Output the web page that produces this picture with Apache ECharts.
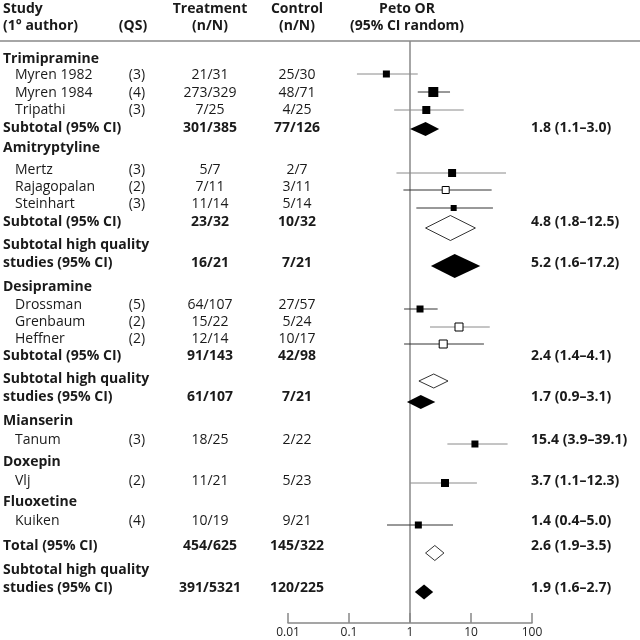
<!DOCTYPE html>
<html><head><meta charset="utf-8">
<script src="https://cdn.jsdelivr.net/npm/echarts@6/dist/echarts.min.js"></script>
<style>html,body{margin:0;padding:0;background:#fff}#c{width:640px;height:640px}</style>
</head><body><div id="c"></div>
<script>
// ---------------- DATA ----------------
const drugGroups = ['Trimipramine', 'Amitryptyline', 'Desipramine', 'Mianserin', 'Doxepin', 'Fluoxetine'];
const studies = ['Myren 1982', 'Myren 1984', 'Tripathi', 'Mertz', 'Rajagopalan', 'Steinhart', 'Drossman', 'Grenbaum', 'Heffner', 'Tanum', 'Vlj', 'Kuiken'];
const studyQS = ['(3)', '(4)', '(3)', '(3)', '(2)', '(3)', '(5)', '(2)', '(2)', '(3)', '(2)', '(4)'];
const studyTreat = ['21/31', '273/329', '7/25', '5/7', '7/11', '11/14', '64/107', '15/22', '12/14', '18/25', '11/21', '10/19'];
const studyCtrl = ['25/30', '48/71', '4/25', '2/7', '3/11', '5/14', '27/57', '5/24', '10/17', '2/22', '5/23', '9/21'];
const studyOR = [0.41, 2.41, 1.85, 4.9, 3.85, 5.2, 1.46, 6.36, 3.5, 11.6, 3.75, 1.37];
const studyLo = [0.135, 1.34, 0.55, 0.6, 0.78, 1.27, 0.80, 2.13, 0.80, 4.1, 1.01, 0.42];
const studyHi = [1.34, 4.53, 7.6, 37.5, 21.8, 22.9, 2.84, 20.3, 16.3, 39.8, 12.5, 5.07];
const studyOpen = [false, false, false, false, true, false, false, true, true, false, false, false];
const studyText = ['', '', '', '', '', '', '', '', '', '15.4 (3.9–39.1)', '3.7 (1.1–12.3)', '1.4 (0.4–5.0)'];

const pooledLabel = ['Subtotal (95% CI)', 'Subtotal (95% CI)', 'Subtotal high quality|studies (95% CI)', 'Subtotal (95% CI)', 'Subtotal high quality|studies (95% CI)', 'Total (95% CI)', 'Subtotal high quality|studies (95% CI)'];
const pooledTreat = ['301/385', '23/32', '16/21', '91/143', '61/107', '454/625', '391/5321'];
const pooledCtrl = ['77/126', '10/32', '7/21', '42/98', '7/21', '145/322', '120/225'];
const pooledText = ['1.8 (1.1–3.0)', '4.8 (1.8–12.5)', '5.2 (1.6–17.2)', '2.4 (1.4–4.1)', '1.7 (0.9–3.1)', '2.6 (1.9–3.5)', '1.9 (1.6–2.7)'];
const pooledOR = [1.8, 4.6, 5.4, 2.45, 1.5, 2.55, 1.7];
const pooledLo = [1.0, 1.8, 2.2, 1.4, 0.89, 1.8, 1.2];
const pooledHi = [3.0, 11.8, 14.2, 4.2, 2.6, 3.6, 2.4];
const pooledOpen = [false, true, false, true, false, true, false];

const axisTicks = [0.01, 0.1, 1, 10, 100];
const header1 = ['Study', 'Treatment', 'Control', 'Peto OR'];
const header2 = ['(1° author)', '(QS)', '(n/N)', '(n/N)', '(95% CI random)'];

// ---------------- LAYOUT (rows, px) ----------------
// [kind, index, textY, markY]
const rows = [
  ['g', 0, 59], ['s', 0, 75, 74], ['s', 1, 93, 92], ['s', 2, 110, 110], ['p', 0, 128, 129],
  ['g', 1, 148], ['s', 3, 170, 173], ['s', 4, 187, 190], ['s', 5, 204, 208], ['p', 1, 222, 228],
  ['h', 2, 263, 266],
  ['g', 2, 287], ['s', 6, 305, 309], ['s', 7, 322, 327], ['s', 8, 339, 344], ['p', 3, 356, 381],
  ['h', 4, 397, 402],
  ['g', 3, 421], ['s', 9, 440, 444],
  ['g', 4, 462], ['s', 10, 481, 483],
  ['g', 5, 502], ['s', 11, 521, 525],
  ['p', 5, 546, 553],
  ['h', 6, 588, 592]
];
const squareSize = [7, 10, 8, 8, 7, 6, 7, 8, 8, 7, 8, 7];
const ciDark = [false, true, false, false, true, true, true, false, true, false, false, true];
const diamondHalf = [7, 12.5, 12, 7, 7, 7.5, 7.5];
const hqLineGap = 18;
const sepY = 41, axisY = 623;
const X = {name: 3, indent: 15, qs: 137, treat: 210, ctrl: 297, peto: 407, right: 531};
const FONT = '"Open Sans", sans-serif';
const TXT = '#1a1a1a';

// ---------------- BUILD ----------------
const graphics = [];
function txt(s, x, y, bold, align) {
  graphics.push({type: 'text', silent: true, style: {text: s, x: x, y: y, fill: TXT,
    font: (bold ? 'bold ' : '') + '14px ' + FONT, align: align || 'left', verticalAlign: 'middle'}});
}
txt(header1[0], X.name, 9, true);
txt(header2[0], X.name, 26, true);
txt(header2[1], 133, 26, true, 'center');
txt(header1[1], X.treat, 9, true, 'center');
txt(header2[2], X.treat, 26, true, 'center');
txt(header1[2], X.ctrl, 9, true, 'center');
txt(header2[3], X.ctrl, 26, true, 'center');
txt(header1[3], X.peto, 9, true, 'center');
txt(header2[4], X.peto, 26, true, 'center');
graphics.push({type: 'line', silent: true, shape: {x1: 0, y1: sepY, x2: 640, y2: sepY}, style: {stroke: '#888', lineWidth: 1.5}});

const ciData = [], sqData = [], diaData = [];
rows.forEach(r => {
  const kind = r[0], i = r[1], ty = r[2], my = r[3];
  if (kind === 'g') { txt(drugGroups[i], X.name, ty, true); return; }
  if (kind === 's') {
    txt(studies[i], X.indent, ty, false);
    txt(studyQS[i], X.qs, ty, false, 'center');
    txt(studyTreat[i], X.treat, ty, false, 'center');
    txt(studyCtrl[i], X.ctrl, ty, false, 'center');
    if (studyText[i]) txt(studyText[i], X.right, ty, true);
    ciData.push([studyLo[i], studyHi[i], my, ciDark[i] ? 1 : 0]);
    sqData.push([studyOR[i], my, squareSize[i], studyOpen[i] ? 1 : 0]);
    return;
  }
  // pooled
  const parts = pooledLabel[i].split('|');
  if (parts.length === 2) { txt(parts[0], X.name, ty - hqLineGap, true); txt(parts[1], X.name, ty, true); }
  else txt(parts[0], X.name, ty, true);
  txt(pooledTreat[i], X.treat, ty, true, 'center');
  txt(pooledCtrl[i], X.ctrl, ty, true, 'center');
  txt(pooledText[i], X.right, ty, true);
  diaData.push([pooledOR[i], pooledLo[i], pooledHi[i], my, diamondHalf[i], pooledOpen[i] ? 1 : 0]);
});

const chart = echarts.init(document.getElementById('c'));
chart.setOption({
  animation: false,
  backgroundColor: '#fff',
  grid: {left: 288, right: 108, top: 0, bottom: 640 - axisY},
  xAxis: {type: 'log', logBase: 10, min: axisTicks[0], max: axisTicks[axisTicks.length - 1], splitNumber: 4,
    position: 'bottom',
    axisLine: {show: true, onZero: false, lineStyle: {color: '#888', width: 1.5}},
    axisTick: {show: true, inside: true, length: 10, lineStyle: {color: '#888', width: 1.5}},
    minorTick: {show: false}, splitLine: {show: false},
    axisLabel: {color: '#222', fontSize: 12, fontFamily: FONT, margin: 4,
      formatter: v => { const n = axisTicks.find(t => Math.abs(Math.log10(t) - Math.log10(v)) < 1e-6); return n !== undefined ? String(n) : ''; }}},
  yAxis: {type: 'value', min: 0, max: axisY, inverse: true, show: false},
  series: [
    {type: 'custom', data: [[1, sepY], [1, axisY]], renderItem: (p, api) => {
      if (p.dataIndex > 0) return null;
      const a = api.coord([1, sepY]), b = api.coord([1, axisY]);
      return {type: 'line', shape: {x1: a[0], y1: a[1], x2: b[0], y2: b[1]}, style: {stroke: '#888', lineWidth: 1.5}};
    }},
    {type: 'custom', data: ciData, renderItem: (p, api) => {
      const a = api.coord([api.value(0), api.value(2)]), b = api.coord([api.value(1), api.value(2)]);
      return {type: 'line', shape: {x1: a[0], y1: a[1], x2: b[0], y2: b[1]},
        style: {stroke: api.value(3) ? '#333' : '#8a8a8a', lineWidth: 1}};
    }},
    {type: 'custom', data: sqData, renderItem: (p, api) => {
      const c = api.coord([api.value(0), api.value(1)]), s = api.value(2);
      return {type: 'rect', shape: {x: c[0] - s / 2, y: c[1] - s / 2, width: s, height: s},
        style: {fill: api.value(3) ? '#fff' : '#000', stroke: '#000', lineWidth: api.value(3) ? 1 : 0}};
    }},
    {type: 'custom', data: diaData, renderItem: (p, api) => {
      const y = api.value(3), h = api.value(4);
      const c = api.coord([api.value(0), y]), l = api.coord([api.value(1), y]), r = api.coord([api.value(2), y]);
      return {type: 'polygon', shape: {points: [[l[0], c[1]], [c[0], c[1] - h], [r[0], c[1]], [c[0], c[1] + h]]},
        style: {fill: api.value(5) ? '#fff' : '#000', stroke: '#000', lineWidth: api.value(5) ? 0.8 : 0}};
    }}
  ],
  graphic: graphics
});
</script></body></html>
